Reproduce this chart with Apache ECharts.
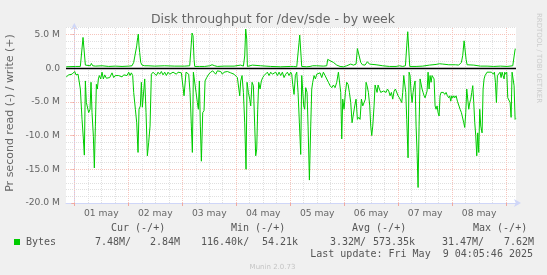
<!DOCTYPE html>
<html><head><meta charset="utf-8">
<script src="https://cdn.jsdelivr.net/npm/echarts@6/dist/echarts.min.js"></script>
<style>html,body{margin:0;padding:0;background:#f0f0f0}#c{width:547px;height:275px}</style>
</head><body><div id="c"></div><script>
// hours since 01 May 00:00, values in MB/s (read negative, write positive)
const readHours=[-3.6,-3.25,-2.5,-1.76,-1.02,-0.28,0.16,0.76,1.65,2.24,2.68,3.43,4.02,4.46,4.91,5.35,5.95,6.39,6.98,7.43,7.87,8.47,8.91,9.36,9.8,10.24,10.69,11.13,11.73,12.32,12.91,13.51,14.25,14.99,15.73,16.77,17.51,18.25,18.99,19.73,20.47,21.22,21.96,22.7,23.44,24.18,24.77,25.37,25.96,26.4,27.15,27.74,28.33,28.77,29.37,29.81,30.26,30.85,31.3,31.89,32.48,33.07,33.67,34.26,35.0,35.74,36.48,37.23,37.97,38.71,39.45,40.19,40.93,41.67,42.41,43.16,43.9,44.64,45.38,46.12,46.86,47.6,48.2,48.79,49.23,49.68,50.27,50.86,51.46,52.05,52.49,52.94,53.53,54.13,54.72,55.16,55.61,56.05,56.5,57.09,57.68,58.13,58.87,59.76,60.65,61.54,62.13,62.87,63.61,64.35,65.1,65.84,66.58,67.32,68.06,68.8,69.54,70.28,71.03,71.77,72.51,72.95,73.55,73.99,74.58,75.18,75.77,76.36,76.81,77.4,77.99,78.44,79.03,79.62,80.22,80.66,81.11,81.55,81.99,82.59,83.18,83.77,84.37,85.11,85.85,86.59,87.33,88.07,88.82,89.56,90.3,91.04,91.78,92.52,93.26,94.0,94.75,95.49,96.23,96.67,97.12,97.71,98.3,98.9,99.49,100.08,100.67,101.12,101.56,102.01,102.45,102.9,103.49,103.94,104.53,105.12,105.57,106.01,106.6,107.2,107.79,108.53,109.27,110.01,110.75,111.5,112.24,112.98,113.72,114.46,115.2,115.94,116.69,117.43,117.87,118.46,118.91,119.35,119.95,120.54,121.13,121.73,122.32,122.91,123.5,124.1,124.69,125.28,125.88,126.47,127.06,127.66,128.25,128.84,129.43,129.73,130.17,130.77,131.36,131.81,132.25,132.7,133.29,133.73,134.18,134.62,135.07,135.66,136.25,136.85,137.44,138.03,138.63,139.22,139.81,140.4,141.0,141.59,142.18,142.78,143.37,143.96,144.56,145.15,145.59,146.04,146.48,146.93,147.37,147.82,148.41,148.85,149.3,149.74,150.19,150.63,151.08,151.52,151.97,152.41,152.86,153.3,153.75,154.19,154.64,155.08,155.53,155.97,156.42,156.86,157.31,157.75,158.2,158.64,159.08,159.53,159.97,160.42,160.86,161.31,161.75,162.2,162.64,163.09,163.53,164.12,164.72,165.31,165.9,166.5,166.94,167.38,167.83,168.27,168.72,169.16,169.76,170.35,170.94,171.54,172.13,172.72,173.17,173.61,174.06,174.5,174.95,175.39,175.84,176.28,176.73,177.17,177.61,178.06,178.5,178.95,179.39,179.84,180.28,180.73,181.32,181.77,182.21,182.65,183.1,183.54,183.99,184.43,184.88,185.47,185.92,186.36,186.81,187.25,187.69,188.14,188.73,189.33,189.77,190.22,190.66,191.11,191.4,191.7,192.29,192.74,193.33,193.77,194.22,194.66,195.11,195.55,196.0,196.3];
const readValues=[-1.3,-1.4,-1.0,-1.1,-0.9,-1.0,-0.5,-1.0,-0.9,-1.1,-3.1,-7.6,-10.5,-12.9,-1.9,-5.1,-5.3,-6.6,-6.1,-2.1,-6.6,-10.1,-14.8,-8.6,-2.4,-3.1,-1.6,-1.1,-1.6,-0.6,-1.6,-1.0,-1.5,-1.6,-1.4,-0.7,-1.4,-1.1,-1.2,-1.1,-1.0,-1.3,-1.0,-1.0,-1.1,-0.6,-1.1,-0.7,-1.1,-3.6,-6.1,-8.1,-12.5,-6.1,-5.6,-2.1,-5.8,-5.6,-1.6,-6.6,-13.0,-11.0,-8.6,-0.9,-0.6,-0.5,-1.1,-0.6,-0.9,-0.5,-1.0,-0.6,-1.1,-0.6,-0.9,-1.1,-0.6,-0.6,-0.9,-0.6,-0.6,-0.7,-0.6,-4.1,-4.1,-0.6,-0.6,-0.9,-3.6,-8.6,-12.5,-0.6,-0.6,-3.6,-5.1,-6.1,-1.9,-8.6,-13.8,-6.6,-6.3,-1.9,-1.4,-0.9,-0.6,-0.4,-0.5,-0.9,-0.4,-0.6,-0.5,-0.9,-0.6,-0.8,-0.5,-0.6,-0.7,-0.6,-0.9,-1.1,-1.4,-1.6,-4.1,-1.9,-1.1,-3.6,-8.1,-15.0,-2.1,-3.6,-4.6,-5.6,-2.1,-2.6,-8.6,-13.0,-12.0,-6.1,-2.1,-3.1,-1.9,-1.4,-1.1,-0.9,-0.6,-1.1,-0.6,-0.9,-1.1,-0.6,-1.1,-0.6,-1.1,-0.6,-1.4,-0.9,-0.6,-1.1,-0.6,-0.9,-2.4,-3.9,-1.1,-0.6,-3.6,-8.1,-12.8,-1.1,-1.1,-5.6,-6.1,-2.9,-3.6,-8.6,-16.6,-8.6,-3.1,-2.1,-1.1,-1.6,-0.9,-1.1,-0.7,-1.4,-0.6,-1.1,-0.9,-2.1,-2.6,-2.9,-2.5,-2.9,-2.1,-0.6,-0.4,-3.6,-10.5,-4.6,-6.1,-3.6,-2.1,-2.4,-3.6,-5.1,-8.1,-8.3,-5.6,-4.6,-7.6,-7.3,-7.6,-4.6,-5.6,-5.8,-4.6,-2.1,-2.6,-3.6,-5.6,-8.6,-10.0,-8.6,-5.6,-2.5,-2.6,-3.6,-2.5,-3.1,-3.6,-3.4,-3.4,-3.2,-3.6,-3.1,-3.4,-4.1,-3.6,-4.6,-3.4,-3.1,-2.9,-4.1,-4.4,-4.6,-5.1,-3.6,-1.1,-0.9,-3.6,-7.6,-13.3,-0.6,-1.1,-3.6,-5.1,-3.6,-2.6,-1.9,-8.6,-12.5,-17.7,-8.6,-1.6,-1.4,-3.1,-3.6,-4.1,-4.4,-4.6,-3.4,-0.6,-3.1,-1.1,-2.1,-1.1,-1.1,-1.6,-5.6,-6.1,-5.6,-6.6,-7.1,-4.1,-3.6,-3.4,-3.6,-3.9,-3.6,-4.1,-4.4,-4.1,-4.9,-4.1,-4.4,-4.1,-4.4,-4.1,-4.9,-4.9,-6.1,-6.6,-6.8,-8.1,-8.8,-6.6,-3.1,-2.9,-6.1,-5.1,-4.6,-3.6,-2.6,-5.1,-8.1,-10.0,-13.0,-9.6,-12.5,-6.1,-8.6,-9.6,-3.1,-1.6,-1.1,-0.9,-0.6,-0.7,-0.6,-0.5,-0.6,-0.6,-0.9,-0.6,-2.1,-5.1,-1.1,-1.1,-0.6,-1.4,-0.6,-1.1,-1.6,-0.6,-0.9,-0.6,-4.4,-4.6,-5.1,-7.3,-0.6,-0.6,-2.6,-7.6,-7.48];
const writeHours=[-3.6,-3.25,0.46,0.76,1.2,2.68,3.43,3.87,4.46,4.91,5.65,7.13,7.58,8.17,9.36,12.32,15.29,18.25,21.22,24.18,24.92,25.66,26.4,27.15,27.74,28.18,28.46,28.77,29.07,29.52,30.11,31.3,32.04,32.78,35.74,40.19,44.64,49.08,51.31,51.75,52.35,52.79,53.24,53.53,55.76,57.98,58.72,60.2,61.24,62.43,62.87,63.61,66.58,71.03,73.99,75.18,75.77,76.21,76.66,76.96,79.18,82.89,87.33,91.78,96.23,96.67,97.41,98.9,99.49,99.93,100.23,100.67,101.12,103.34,104.83,106.01,106.6,107.79,110.75,112.24,112.68,113.72,115.2,116.69,118.17,119.65,121.13,122.91,124.1,125.28,125.88,126.62,127.36,128.1,129.28,130.32,131.21,134.18,137.14,140.1,143.07,144.56,146.04,147.23,147.82,148.26,148.71,149.15,151.97,154.93,157.9,160.86,162.35,163.83,166.5,169.46,170.94,172.13,172.72,173.32,173.76,174.21,174.65,177.61,180.58,183.54,186.51,189.47,192.44,194.96,195.4,196.0,196.3];
const writeValues=[0.2,0.2,0.25,0.35,0.2,0.25,0.45,4.55,4.4,0.45,0.25,0.35,0.7,0.35,0.3,0.35,0.25,0.3,0.25,0.3,0.45,0.35,0.85,0.6,3.3,4.55,5.05,3.3,2.3,0.85,0.45,0.35,0.6,0.35,0.3,0.35,0.3,0.3,0.35,0.45,5.2,4.8,1.3,0.25,0.25,0.25,0.45,0.35,0.5,0.35,0.45,0.25,0.3,0.3,0.45,0.3,1.8,5.8,4.3,0.25,0.45,0.35,0.25,0.2,0.25,0.45,0.25,0.2,0.35,3.8,4.9,4.8,0.25,0.2,0.25,0.35,0.5,0.35,0.3,0.35,1.3,1.1,0.85,0.45,0.25,0.2,0.35,0.6,0.45,0.6,2.9,2.9,0.85,0.5,0.45,0.95,0.6,0.5,0.35,0.25,0.25,0.35,0.25,0.35,3.3,5.4,5.3,0.25,0.25,0.3,0.45,0.55,0.65,0.6,0.5,0.5,0.45,0.85,1.9,4.05,3.8,1.3,0.5,0.45,0.3,0.3,0.25,0.3,0.25,0.35,0.45,2.8,2.84];
const dayLabels=['01 may','02 may','03 may','04 may','05 may','06 may','07 may','08 may'];
const labelHours=[12,36,60,84,108,132,156,180];
const dayLines=[0,24,48,72,96,120,144,168,192];
const sixHourLines=[6,12,18,30,36,42,54,60,66,78,84,90,102,108,114,126,132,138,150,156,162,174,180,186];
const yTicks=[-20,-15,-10,-5,0,5];
const yMajorLines=[-15,-10,-5,5];
const yMinorLines=[-19,-18,-17,-16,-14,-13,-12,-11,-9,-8,-7,-6,-4,-3,-2,-1,1,2,3,4,6];
const statHeads=['Cur (-/+)','Min (-/+)','Avg (-/+)','Max (-/+)'];
const statValues=['7.48M/','2.84M','116.40k/','54.21k','3.32M/','573.35k','31.47M/','7.62M'];
const seriesName='Bytes';
const lastUpdate='Last update: Fri May  9 04:05:46 2025';

const GREEN='#00cc00', FONT='#666666', AXIS='#cfd6f8';
const minorStyle={color:'#e0e0e0',type:[1,1],width:1};
const majorStyle={color:'#f6c4bc',type:[1,1],width:1};
const gridLines=[]
  .concat(sixHourLines.map(h=>({xAxis:h,lineStyle:minorStyle})))
  .concat(yMinorLines.map(v=>({yAxis:v,lineStyle:minorStyle})))
  .concat(dayLines.map(h=>({xAxis:h,lineStyle:majorStyle})))
  .concat(yMajorLines.map(v=>({yAxis:v,lineStyle:majorStyle})));

const chart=echarts.init(document.getElementById('c'),null,{renderer:'canvas'});
const mono='"DejaVu Sans Mono", monospace';
const sans='"DejaVu Sans", sans-serif';
function txt(x,y,text,opt){
  opt=opt||{};
  return {type:'text',x:x,y:y,rotation:opt.rot||0,silent:true,
    style:{text:text,textAlign:opt.align||'left',textVerticalAlign:'middle',
      fontSize:opt.size||10,fontFamily:opt.font||mono,fill:opt.color||'#555555'}};
}
const statX=[95,150,201,262,330,373,442,504];
const headX=[111,231,352,473];
const graphics=[
  txt(273,20,'Disk throughput for /dev/sde - by week',{align:'center',size:12.5,font:sans,color:FONT}),
  txt(10,113,'Pr second read (-) / write (+)',{align:'center',size:11,font:sans,color:FONT,rot:Math.PI/2}),
  txt(538.5,58,'RRDTOOL / TOBI OETIKER',{align:'center',size:7,font:sans,color:'#cccccc',rot:-Math.PI/2}),
  {type:'rect',shape:{x:14,y:239,width:6,height:6},style:{fill:GREEN},silent:true},
  txt(26,242,seriesName),
  txt(533,254,lastUpdate,{align:'right'}),
  txt(272.5,267,'Munin 2.0.73',{align:'center',size:7,font:sans,color:'#c4c4c4'})
].concat(statHeads.map((t,i)=>txt(headX[i],228.6,t)))
 .concat(statValues.map((t,i)=>txt(statX[i],242,t)));

chart.setOption({
  backgroundColor:'#f0f0f0',
  animation:false,
  grid:{left:66,right:31,top:27,bottom:72,show:true,backgroundColor:'#ffffff',borderWidth:0},
  xAxis:{type:'value',min:-3.7,max:196.4,
    axisLine:{onZero:false,lineStyle:{color:AXIS,width:1},symbol:['none','arrow'],symbolSize:[6,7],symbolOffset:[0,5]},
    axisTick:{show:true,customValues:dayLines,length:3,lineStyle:{color:'#f0a8a0'}},
    axisLabel:{customValues:labelHours,margin:6,color:FONT,fontSize:9.2,fontFamily:sans,
      formatter:v=>dayLabels[Math.round((v-12)/24)]||''},
    splitLine:{show:false}},
  yAxis:{type:'value',min:-20,max:6.1,
    axisLine:{show:true,lineStyle:{color:AXIS,width:1},symbol:['none','arrow'],symbolSize:[6,7],symbolOffset:[0,4]},
    axisTick:{show:true,customValues:yTicks,length:3,lineStyle:{color:'#f0a8a0'}},
    axisLabel:{customValues:yTicks,margin:6,color:FONT,fontSize:9.2,fontFamily:sans,
      formatter:v=>v===0?'0.0':(v.toFixed(1)+' M')},
    splitLine:{show:false}},
  graphic:graphics,
  series:[
    {type:'line',name:'grid',data:[],silent:true,z:1,
     markLine:{silent:true,z:1,symbol:['none','none'],label:{show:false},animation:false,data:gridLines}},
    {type:'line',name:'zero',data:[],silent:true,z:2,
     markLine:{silent:true,z:2,symbol:['none','none'],label:{show:false},animation:false,
       data:[{yAxis:0,lineStyle:{color:'#000000',width:1.4,type:'solid'}}]}},
    {type:'line',name:'read',z:3,showSymbol:false,symbol:'none',
     lineStyle:{color:GREEN,width:1},data:readHours.map((h,i)=>[h,readValues[i]])},
    {type:'line',name:'write',z:3,showSymbol:false,symbol:'none',
     lineStyle:{color:GREEN,width:1},data:writeHours.map((h,i)=>[h,writeValues[i]])}
  ]
});
</script></body></html>
